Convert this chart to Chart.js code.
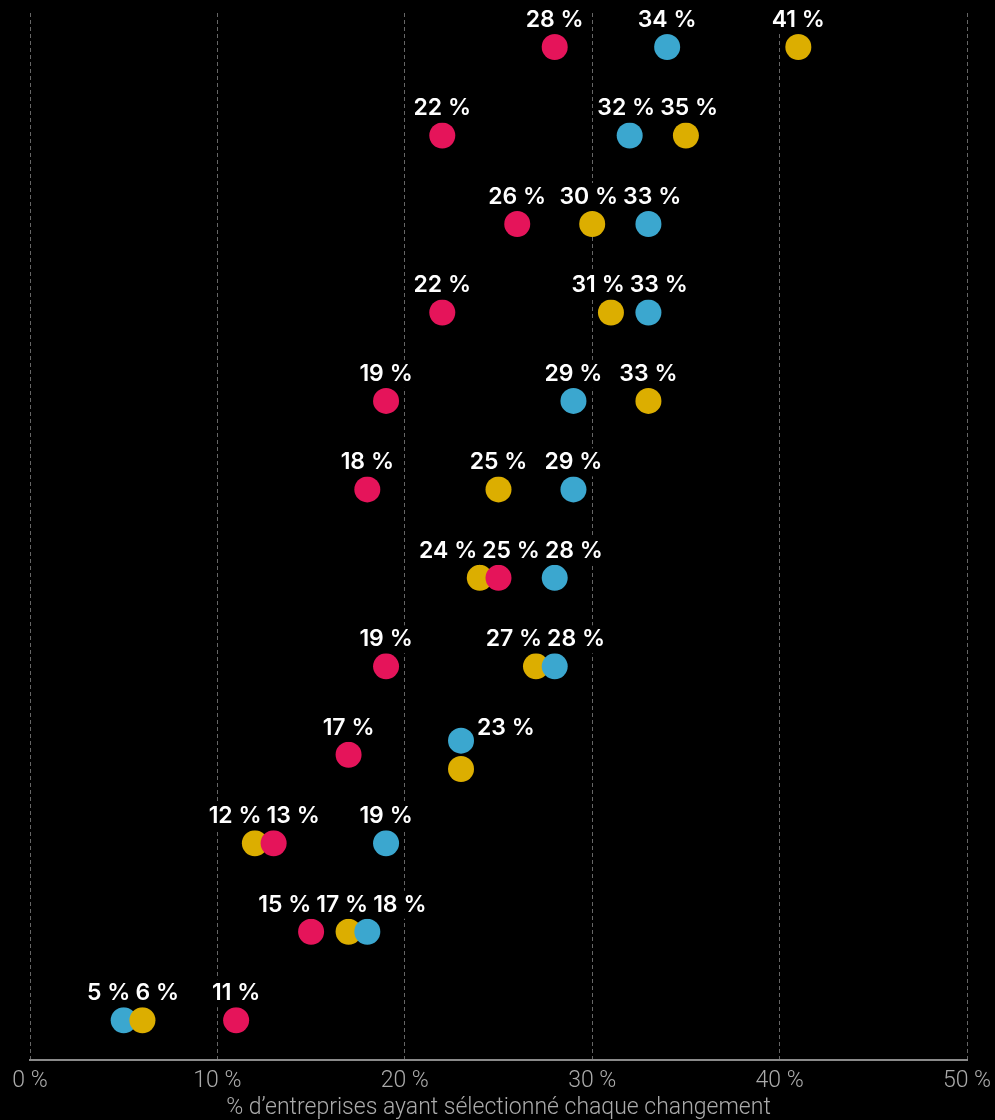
<!DOCTYPE html>
<html lang="fr">
<head>
<meta charset="utf-8">
<title>Changements sélectionnés</title>
<script src="https://cdn.jsdelivr.net/npm/chart.js@4.4.1/dist/chart.umd.min.js"></script>
<style>
  html, body { margin: 0; padding: 0; background: #000; }
  #wrap { position: relative; width: 995px; height: 1120px; }
</style>
</head>
<body>
<div id="wrap"><canvas id="graphique"></canvas></div>
<script>
"use strict";

// une valeur par ligne, de haut en bas
const serieRouge = [28, 22, 26, 22, 19, 18, 25, 19, 17, 13, 15, 11];
const serieBleue = [34, 32, 33, 33, 29, 29, 28, 28, 23, 19, 18, 5];
const serieOr = [41, 35, 30, 31, 33, 25, 24, 27, 23, 12, 17, 6];
const ticksX = [0, 10, 20, 30, 40, 50];
const titreX = "% d’entreprises ayant sélectionné chaque changement";

const COULEURS = { rouge: "#E5145A", bleue: "#3BA7CF", or: "#DCAE00" };

const series = [
  { cle: "rouge", valeurs: serieRouge },
  { cle: "bleue", valeurs: serieBleue },
  { cle: "or", valeurs: serieOr },
];

const POLICE_ETIQ = "600 23px Inter, 'Open Sans', sans-serif";
const ECART = 5;

function construirePoints() {
  const points = [];
  serieRouge.forEach((_, ligne) => {
    const dansLigne = series.map((s) => ({
      v: s.valeurs[ligne],
      couleur: COULEURS[s.cle],
      dy: 0,
    }));

    // deux séries à la même valeur : on les décale verticalement
    const nb = {};
    dansLigne.forEach((p) => (nb[p.v] = (nb[p.v] || 0) + 1));
    const vus = {};
    dansLigne.forEach((p) => {
      if (nb[p.v] > 1) {
        const k = vus[p.v] || 0;
        vus[p.v] = k + 1;
        p.dy = (k - (nb[p.v] - 1) / 2) * 0.32;
      }
    });

    // le point le plus à droite est dessiné par-dessus
    dansLigne
      .sort((a, b) => a.v - b.v)
      .forEach((p) =>
        points.push({ x: p.v, y: ligne + p.dy, ligne, couleur: p.couleur }),
      );
  });
  return points;
}

const etiquettes = {
  id: "etiquettes",
  afterDatasetsDraw(chart) {
    const { ctx } = chart;
    const x = chart.scales.x;
    const y = chart.scales.y;

    ctx.save();
    ctx.font = POLICE_ETIQ;
    ctx.textAlign = "center";
    ctx.textBaseline = "middle";

    serieRouge.forEach((_, ligne) => {
      const valeurs = [...new Set(series.map((s) => s.valeurs[ligne]))].sort(
        (a, b) => a - b,
      );
      const yTexte = y.getPixelForValue(ligne) - 27;

      const items = valeurs.map((v) => {
        const texte = v + " %";
        const w = ctx.measureText(texte).width;
        const px = x.getPixelForValue(v);
        const egaux = series.filter((s) => s.valeurs[ligne] === v).length;
        // valeur partagée : étiquette à droite des points
        const cx = egaux > 1 ? px + 16 + w / 2 : px;
        return { texte, w, cx };
      });

      const largeur = (b) =>
        b.items.reduce((s, i) => s + i.w, 0) + ECART * (b.items.length - 1);

      let blocs = items.map((it) => ({ items: [it], ancre: it.cx }));
      let fusion = true;
      while (fusion) {
        fusion = false;
        for (let i = 0; i < blocs.length - 1; i++) {
          const a = blocs[i];
          const b = blocs[i + 1];
          if (a.ancre + largeur(a) / 2 + ECART > b.ancre - largeur(b) / 2) {
            const membres = a.items.concat(b.items);
            const ancre =
              membres.reduce((s, it) => s + it.cx, 0) / membres.length;
            blocs.splice(i, 2, { items: membres, ancre });
            fusion = true;
            break;
          }
        }
      }

      blocs.forEach((b) => {
        let debut = b.ancre - largeur(b) / 2;
        b.items.forEach((it) => {
          const cx = debut + it.w / 2;
          ctx.fillStyle = "#000";
          ctx.fillRect(cx - it.w / 2 - 2, yTexte - 14, it.w + 4, 28);
          ctx.fillStyle = "#fff";
          ctx.fillText(it.texte, cx, yTexte);
          debut += it.w + ECART;
        });
      });
    });

    ctx.restore();
  },
};

new Chart(document.getElementById("graphique"), {
  type: "scatter",
  data: {
    datasets: [
      {
        data: construirePoints(),
        pointRadius: 13,
        pointHoverRadius: 13,
        borderWidth: 0,
        backgroundColor: (c) => (c.raw ? c.raw.couleur : "#000"),
      },
    ],
  },
  options: {
    responsive: true,
    maintainAspectRatio: false,
    animation: false,
    layout: { padding: { left: 30, right: 28, top: 10, bottom: 0 } },
    plugins: {
      legend: { display: false },
      tooltip: { enabled: false },
    },
    scales: {
      x: {
        type: "linear",
        min: 0,
        max: 50,
        afterBuildTicks: (s) => {
          s.ticks = ticksX.map((v) => ({ value: v }));
        },
        afterFit: (s) => {
          // le libellé « 50 % » peut déborder à droite
          s.height = 60;
          s.paddingLeft = 0;
          s.paddingRight = 0;
        },
        ticks: {
          callback: (v) => v + " %",
          color: "#ababab",
          font: { family: "Roboto", weight: 300, size: 23 },
          padding: 7,
          maxRotation: 0,
        },
        grid: { color: "#666", lineWidth: 1, drawTicks: false },
        border: { display: true, color: "#8a8a8a", width: 2, dash: [4, 3] },
        title: {
          display: true,
          text: titreX,
          color: "#ababab",
          font: { family: "Roboto", weight: 300, size: 23 },
          padding: { top: 0, bottom: -2 },
        },
      },
      y: {
        type: "linear",
        display: false,
        reverse: true,
        min: -0.385,
        max: 11.45,
      },
    },
  },
  plugins: [etiquettes],
});
</script>
</body>
</html>
